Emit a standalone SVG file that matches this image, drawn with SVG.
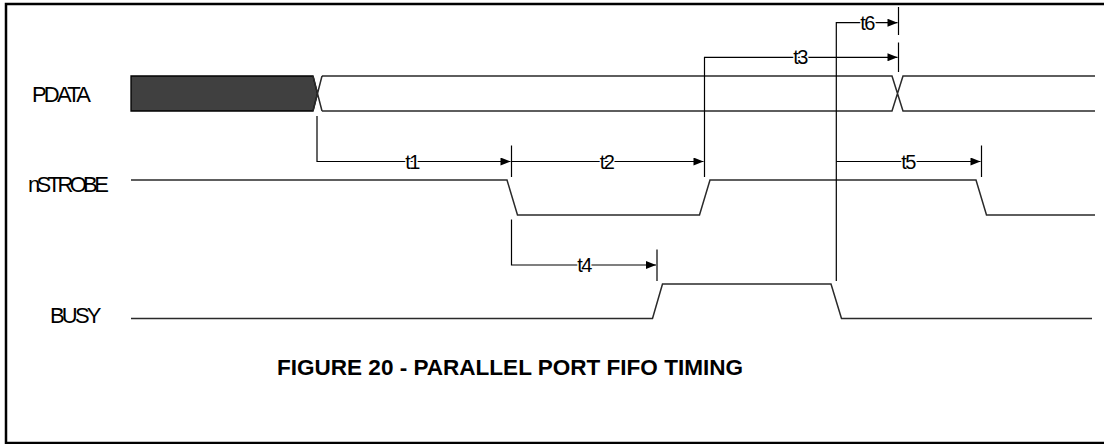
<svg xmlns="http://www.w3.org/2000/svg" width="1104" height="444" viewBox="0 0 1104 444">
<style>
.sig{fill:none;stroke:#2a2a2a;stroke-width:1.5}
.con{fill:none;stroke:#000;stroke-width:1.2}
.lbl{font-family:"Liberation Sans",Arial,sans-serif;font-size:22px;letter-spacing:-2.8px;fill:#000}
.tl{font-family:"Liberation Sans",Arial,sans-serif;font-size:20px;letter-spacing:-1.6px;fill:#000;text-anchor:middle;stroke:#fff;stroke-width:3;paint-order:stroke fill}
.title{font-family:"Liberation Sans",Arial,sans-serif;font-size:22px;font-weight:bold;fill:#000}
</style>
<defs>
<marker id="ah" viewBox="0 0 10 8" refX="10" refY="4" markerWidth="11" markerHeight="8" markerUnits="userSpaceOnUse" orient="auto">
<path d="M0,0 L10,4 L0,8 Z" fill="#000"/>
</marker>
</defs>
<rect x="0" y="0" width="1104" height="444" fill="#fff"/>
<rect x="6" y="4" width="1110" height="439" fill="none" stroke="#000" stroke-width="2.5"/>

<g id="pdata">
<text class="lbl" x="32" y="101.5">PDATA</text>
<path d="M131,76 H313 L317.5,93.5 L313,111 H131 Z" fill="#404040" stroke="#000" stroke-width="1.3"/>
<path class="sig" d="M313,76 L322,111 M322,76 L313,111 M322,76 H892 L903,111 H1095 M322,111 H892 L903,76 H1095"/>
</g>

<g id="nstrobe">
<text class="lbl" x="28" y="192" textLength="78" lengthAdjust="spacing">nSTROBE</text>
<path class="sig" d="M131,180 H507 L517.5,215 H699.5 L710,180 H976 L986.5,215 H1095"/>
</g>

<g id="busy">
<text class="lbl" x="50" y="322.5">BUSY</text>
<path class="sig" d="M131,318.5 H652.5 L662.5,284 H831 L841.5,318.5 H1092"/>
</g>

<g id="connectors">
<path class="con" d="M317,116 V161.5 H510.5" marker-end="url(#ah)"/>
<path class="con" d="M511.5,145.5 V177"/>
<path class="con" d="M511.5,161.5 H703.5" marker-end="url(#ah)"/>
<path class="con" d="M704.5,177 V57.3 H897.5" marker-end="url(#ah)"/>
<path class="con" d="M898.5,42.5 V72"/>
<path class="con" d="M836.3,281 V22.7 H897.5" marker-end="url(#ah)"/>
<path class="con" d="M898.5,7 V35"/>
<path class="con" d="M836.3,161.5 H980.5" marker-end="url(#ah)"/>
<path class="con" d="M981.5,145.5 V177"/>
<path class="con" d="M511.5,219.5 V265 H656" marker-end="url(#ah)"/>
<path class="con" d="M657,249.5 V281"/>
</g>

<g id="timing-labels">
<text class="tl" x="412" y="168.5">t1</text>
<text class="tl" x="606.5" y="168.5">t2</text>
<text class="tl" x="800" y="64.3">t3</text>
<text class="tl" x="584" y="272">t4</text>
<text class="tl" x="908" y="168.5">t5</text>
<text class="tl" x="867" y="29.7">t6</text>
</g>

<g id="caption">
<text class="title" x="277" y="375" textLength="466" lengthAdjust="spacingAndGlyphs">FIGURE 20 - PARALLEL PORT FIFO TIMING</text>
</g>
</svg>
